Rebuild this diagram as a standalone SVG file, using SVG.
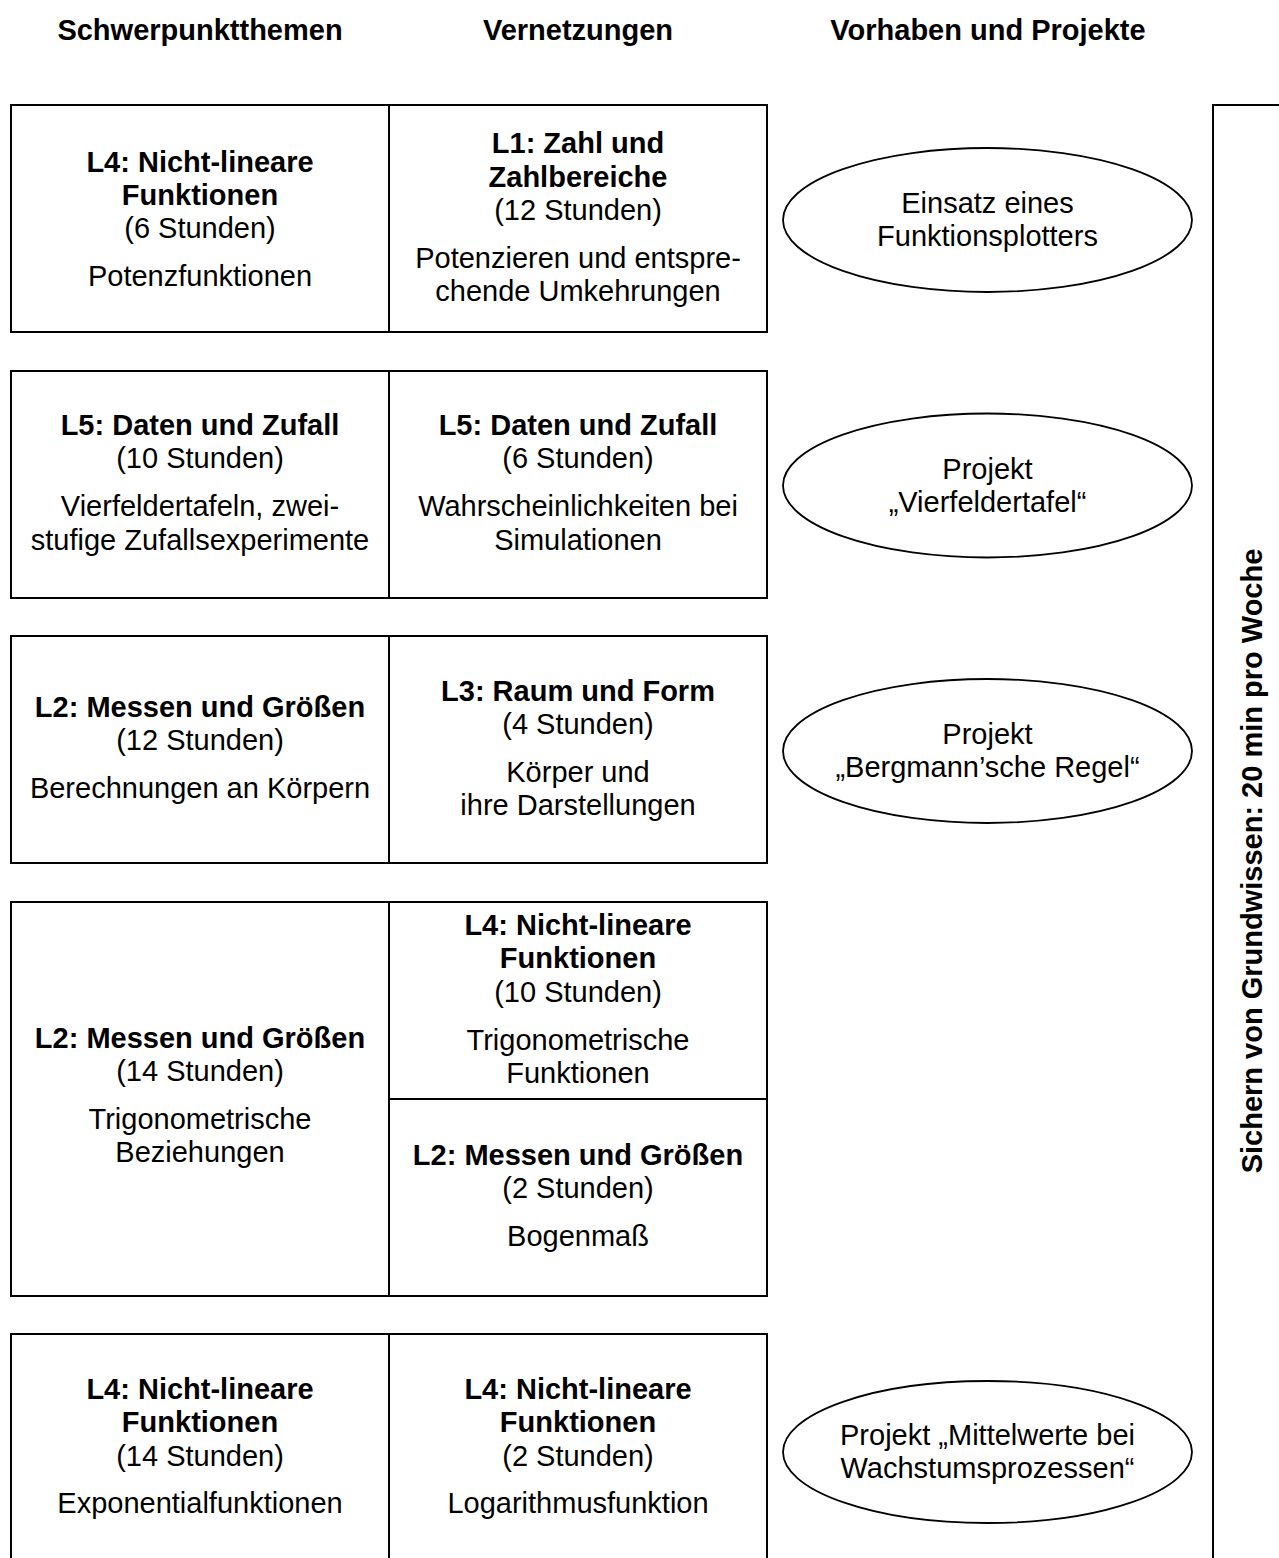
<svg xmlns="http://www.w3.org/2000/svg" width="1279" height="1558" viewBox="0 0 1279 1558">
<style>
text{font-family:"Liberation Sans",Arial,sans-serif;font-size:29px;fill:#000;text-anchor:middle}
.b{font-weight:bold}
.box{fill:#fff;stroke:#000;stroke-width:2}
.ln{stroke:#000;stroke-width:2;fill:none}
.ell{fill:#fff;stroke:#000;stroke-width:1.8}
</style>
<rect width="1279" height="1558" fill="#fff"/>
<g id="headers">
<text class="b" x="200" y="40">Schwerpunktthemen</text>
<text class="b" x="578" y="40">Vernetzungen</text>
<text class="b" x="988" y="40">Vorhaben und Projekte</text>
</g>
<g id="row1">
<rect class="box" x="11" y="105" width="756" height="227"/>
<line class="ln" x1="389" y1="105" x2="389" y2="332"/>
<text class="b" x="200" y="172">L4: Nicht-lineare</text>
<text class="b" x="200" y="205">Funktionen</text>
<text x="200" y="238">(6 Stunden)</text>
<text x="200" y="286">Potenzfunktionen</text>
<text class="b" x="578" y="153">L1: Zahl und</text>
<text class="b" x="578" y="187">Zahlbereiche</text>
<text x="578" y="220">(12 Stunden)</text>
<text x="578" y="268">Potenzieren und entspre-</text>
<text x="578" y="301">chende Umkehrungen</text>
</g>
<g id="row2">
<rect class="box" x="11" y="371" width="756" height="227"/>
<line class="ln" x1="389" y1="371" x2="389" y2="598"/>
<text class="b" x="200" y="435">L5: Daten und Zufall</text>
<text x="200" y="468">(10 Stunden)</text>
<text x="200" y="516">Vierfeldertafeln, zwei-</text>
<text x="200" y="550">stufige Zufallsexperimente</text>
<text class="b" x="578" y="435">L5: Daten und Zufall</text>
<text x="578" y="468">(6 Stunden)</text>
<text x="578" y="516">Wahrscheinlichkeiten bei</text>
<text x="578" y="550">Simulationen</text>
</g>
<g id="row3">
<rect class="box" x="11" y="636" width="756" height="227"/>
<line class="ln" x1="389" y1="636" x2="389" y2="863"/>
<text class="b" x="200" y="717">L2: Messen und Größen</text>
<text x="200" y="750">(12 Stunden)</text>
<text x="200" y="798">Berechnungen an Körpern</text>
<text class="b" x="578" y="701">L3: Raum und Form</text>
<text x="578" y="734">(4 Stunden)</text>
<text x="578" y="782">Körper und</text>
<text x="578" y="815">ihre Darstellungen</text>
</g>
<g id="row4">
<rect class="box" x="11" y="902" width="756" height="394"/>
<line class="ln" x1="389" y1="902" x2="389" y2="1296"/>
<line class="ln" x1="389" y1="1099" x2="767" y2="1099"/>
<text class="b" x="200" y="1048">L2: Messen und Größen</text>
<text x="200" y="1081">(14 Stunden)</text>
<text x="200" y="1129">Trigonometrische</text>
<text x="200" y="1162">Beziehungen</text>
<text class="b" x="578" y="935">L4: Nicht-lineare</text>
<text class="b" x="578" y="968">Funktionen</text>
<text x="578" y="1002">(10 Stunden)</text>
<text x="578" y="1050">Trigonometrische</text>
<text x="578" y="1083">Funktionen</text>
<text class="b" x="578" y="1165">L2: Messen und Größen</text>
<text x="578" y="1198">(2 Stunden)</text>
<text x="578" y="1246">Bogenmaß</text>
</g>
<g id="row5">
<rect class="box" x="11" y="1334" width="756" height="260"/>
<line class="ln" x1="389" y1="1334" x2="389" y2="1594"/>
<text class="b" x="200" y="1399">L4: Nicht-lineare</text>
<text class="b" x="200" y="1432">Funktionen</text>
<text x="200" y="1466">(14 Stunden)</text>
<text x="200" y="1513">Exponentialfunktionen</text>
<text class="b" x="578" y="1399">L4: Nicht-lineare</text>
<text class="b" x="578" y="1432">Funktionen</text>
<text x="578" y="1466">(2 Stunden)</text>
<text x="578" y="1513">Logarithmusfunktion</text>
</g>
<g id="project1">
<ellipse class="ell" cx="987.5" cy="220" rx="204.5" ry="72"/>
<text x="987.5" y="213">Einsatz eines</text>
<text x="987.5" y="246">Funktionsplotters</text>
</g>
<g id="project2">
<ellipse class="ell" cx="987.5" cy="485.5" rx="204.5" ry="72"/>
<text x="987.5" y="479">Projekt</text>
<text x="987.5" y="512">„Vierfeldertafel“</text>
</g>
<g id="project3">
<ellipse class="ell" cx="987.5" cy="751" rx="204.5" ry="72"/>
<text x="987.5" y="744">Projekt</text>
<text x="987.5" y="777">„Bergmann’sche Regel“</text>
</g>
<g id="project4">
<ellipse class="ell" cx="987.5" cy="1452" rx="204.5" ry="71"/>
<text x="987.5" y="1445">Projekt „Mittelwerte bei</text>
<text x="987.5" y="1478">Wachstumsprozessen“</text>
</g>
<g id="grundwissen">
<polyline class="ln" points="1279,105 1213,105 1213,1560"/>
<text class="b" transform="translate(1262,861) rotate(-90)">Sichern von Grundwissen: 20 min pro Woche</text>
</g>
<g id="connectors"></g>
</svg>
